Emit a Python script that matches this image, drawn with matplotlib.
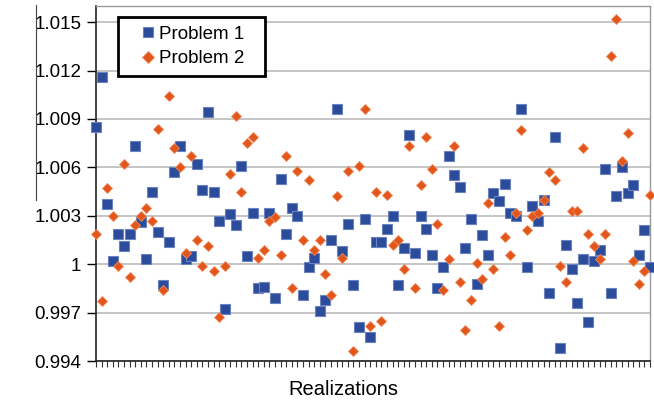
import matplotlib
matplotlib.use('Agg')
import matplotlib.pyplot as plt
from matplotlib.lines import Line2D
import numpy as np

plt.rcParams['font.family'] = ['Liberation Sans', 'DejaVu Sans']

# values, one per realization
problem1 = [1.0085, 1.0116, 1.0037, 1.0002, 1.0019, 1.0011, 1.0019, 1.0073, 1.0026, 1.0003,
            1.0045, 1.0020, 0.9987, 1.0014, 1.0057, 1.0073, 1.0003, 1.0005, 1.0062, 1.0046,
            1.0094, 1.0045, 1.0027, 0.9972, 1.0031, 1.0024, 1.0061, 1.0005, 1.0032, 0.9985,
            0.9986, 1.0032, 0.9979, 1.0053, 1.0019, 1.0035, 1.0030, 0.9981, 0.9998, 1.0004,
            0.9971, 0.9978, 1.0015, 1.0096, 1.0008, 1.0025, 0.9987, 0.9961, 1.0028, 0.9955,
            1.0014, 1.0014, 1.0022, 1.0030, 0.9987, 1.0010, 1.0080, 1.0007, 1.0030, 1.0022,
            1.0006, 0.9985, 0.9998, 1.0067, 1.0055, 1.0048, 1.0010, 1.0028, 0.9988, 1.0018,
            1.0006, 1.0044, 1.0039, 1.0050, 1.0032, 1.0030, 1.0096, 0.9998, 1.0036, 1.0027,
            1.0040, 0.9982, 1.0079, 0.9948, 1.0012, 0.9997, 0.9976, 1.0003, 0.9964, 1.0002,
            1.0009, 1.0059, 0.9982, 1.0042, 1.0060, 1.0044, 1.0049, 1.0006, 1.0021, 0.9998]

problem2 = [1.0019, 0.9977, 1.0047, 1.0030, 0.9999, 1.0062, 0.9992, 1.0024, 1.0030, 1.0035,
            1.0027, 1.0084, 0.9984, 1.0104, 1.0072, 1.0060, 1.0007, 1.0067, 1.0015, 0.9999,
            1.0011, 0.9996, 0.9967, 0.9999, 1.0056, 1.0092, 1.0045, 1.0075, 1.0079, 1.0004,
            1.0009, 1.0027, 1.0029, 1.0006, 1.0067, 0.9985, 1.0058, 1.0015, 1.0052, 1.0009,
            1.0015, 0.9994, 0.9981, 1.0042, 1.0004, 1.0058, 0.9946, 1.0061, 1.0096, 0.9962,
            1.0045, 0.9965, 1.0043, 1.0012, 1.0015, 0.9997, 1.0073, 0.9985, 1.0049, 1.0079,
            1.0059, 1.0025, 0.9984, 1.0003, 1.0073, 0.9989, 0.9959, 0.9978, 1.0001, 0.9991,
            1.0038, 0.9997, 0.9962, 1.0017, 1.0006, 1.0032, 1.0083, 1.0021, 1.0030, 1.0032,
            1.0040, 1.0057, 1.0052, 0.9999, 0.9989, 1.0033, 1.0033, 1.0072, 1.0019, 1.0011,
            1.0003, 1.0019, 1.0129, 1.0152, 1.0064, 1.0081, 1.0002, 0.9988, 0.9996, 1.0043]

y_ticks = [0.994, 0.997, 1.000, 1.003, 1.006, 1.009, 1.012, 1.015]
y_tick_labels = ['0.994', '0.997', '1', '1.003', '1.006', '1.009', '1.012', '1.015']

realizations = np.arange(len(problem1))

fig = plt.figure(figsize=(6.54, 4.03), dpi=100)
ax = fig.add_axes([96 / 654, 42 / 403, 554 / 654, 355 / 403])

ax.plot(realizations, problem1, linestyle='none', marker='s', markersize=6.8,
        markerfacecolor='#2b4c9b', markeredgecolor='#6a82bf', markeredgewidth=0.8,
        label='Problem 1', zorder=3, clip_on=False)
ax.plot(realizations, problem2, linestyle='none', marker='D', markersize=5.4,
        markerfacecolor='#e2561c', markeredgecolor='#f08a5a', markeredgewidth=0.6,
        label='Problem 2', zorder=3, clip_on=False)

ax.set_xlim(0, len(problem1) - 1)
ax.set_ylim(0.994, 1.016)
ax.set_yticks(y_ticks)
ax.set_yticklabels(y_tick_labels, fontsize=13.5)
ax.set_xticks(realizations)
ax.set_xticklabels([])
ax.tick_params(axis='x', direction='out', length=4.5, width=0.8, color='#333333')
ax.tick_params(axis='y', direction='out', length=6.5, width=1, pad=4)

ax.grid(axis='y', color='#c0c0c0', linewidth=1.3)
ax.set_axisbelow(True)
for side in ('top', 'right'):
    ax.spines[side].set_color('#9a9a9a')
    ax.spines[side].set_linewidth(1.0)
for side in ('left', 'bottom'):
    ax.spines[side].set_color('#222222')
    ax.spines[side].set_linewidth(1.2)

ax.set_xlabel('Realizations', fontsize=14.5)
ax.xaxis.set_label_coords(0.446, -0.054)

leg = ax.legend(loc='upper left', bbox_to_anchor=(0.0397, 0.0, 0.265, 0.969),
                mode='expand', borderaxespad=0, fontsize=13.5, fancybox=False,
                framealpha=1, edgecolor='black', markerscale=1.1,
                handlelength=2.3, handletextpad=-0.55, borderpad=0.45, labelspacing=0.4)
leg.get_frame().set_linewidth(2)

# stray vertical line at the left edge of the reference image
fig.add_artist(Line2D([36 / 654, 36 / 654], [1 - 5 / 403, 1 - 200 / 403],
                      color='#444444', linewidth=0.8))

fig.savefig('out.png', dpi=100)
